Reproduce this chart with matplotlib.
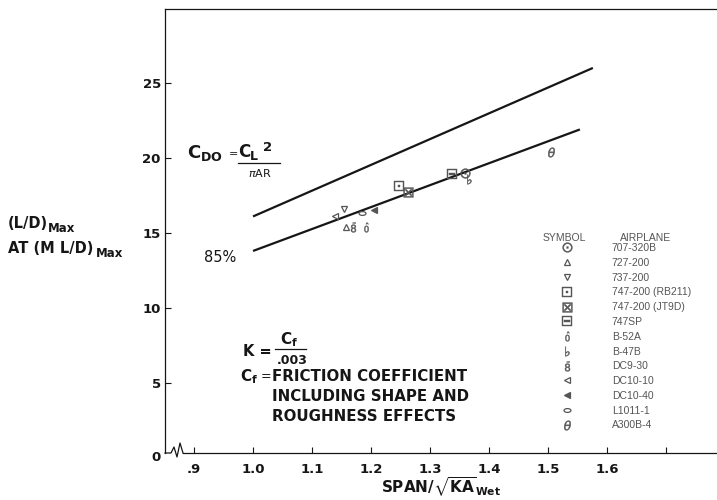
import matplotlib
matplotlib.use("Agg")
import matplotlib.pyplot as plt
from matplotlib.lines import Line2D
from matplotlib.path import Path
from matplotlib.transforms import Affine2D, blended_transform_factory

plt.rcParams["font.family"] = ["DejaVu Sans"]
plt.rcParams["mathtext.fontset"] = "custom"
plt.rcParams["mathtext.rm"] = "DejaVu Sans"
plt.rcParams["mathtext.it"] = "DejaVu Sans:italic"
plt.rcParams["mathtext.bf"] = "DejaVu Sans:bold"
plt.rcParams["mathtext.fallback"] = "stixsans"

# ---- data -------------------------------------------------------------
airplanes = ["707-320B", "727-200", "737-200", "747-200 (RB211)",
             "747-200 (JT9D)", "747SP", "B-52A", "B-47B", "DC9-30",
             "DC10-10", "DC10-40", "L1011-1", "A300B-4"]
span_ratio = [1.359, 1.158, 1.154, 1.247, 1.263, 1.337, 1.192, 1.366,
              1.169, 1.139, 1.205, 1.185, 1.505]
ld_max = [19.0, 15.4, 16.6, 18.1, 17.7, 18.9, 15.4, 18.6,
          15.4, 16.1, 16.5, 16.3, 20.4]

# theoretical (C_DO = C_L^2 / pi AR) line and its 85 % line
theory_x = [1.0, 1.576]
theory_y = [16.1, 26.0]
pct85_x = [1.0, 1.554]
pct85_y = [13.8, 21.9]

x_ticks = [0.9, 1.0, 1.1, 1.2, 1.3, 1.4, 1.5, 1.6, 1.7]
x_tick_labels = [".9", "1.0", "1.1", "1.2", "1.3", "1.4", "1.5", "1.6", ""]
y_ticks = [5, 10, 15, 20, 25]
y_tick_labels = ["5", "10", "15", "20", "25"]

# ---- figure -------------------------------------------------------------
W, H = 717, 500
INK = "#161616"
GREY = "#555555"
KEY_FONT = "Liberation Sans"


def px(x, y):
    return x / W, 1 - y / H


fig = plt.figure(figsize=(W / 100, H / 100), dpi=100)
ax_left, ax_right, ax_top, ax_bot = 165, 717, 9, 453
ax = fig.add_axes([ax_left / W, 1 - ax_bot / H,
                   (ax_right - ax_left) / W, (ax_bot - ax_top) / H])
ax.set_xlim(0.8508, 1.7864)
ax.set_ylim(0.33, 29.93)

ax.plot(theory_x, theory_y, color=INK, lw=1.6, solid_capstyle="butt")
ax.plot(pct85_x, pct85_y, color=INK, lw=1.6, solid_capstyle="butt")

ellipse = Path.unit_circle().transformed(Affine2D().scale(1.0, 0.55))
markers = [r"$\odot$", "^", "v", r"$\boxdot$", r"$\boxtimes$", r"$\boxminus$",
           r"$\hat{0}$", r"$\flat$", r"$\bar{8}$", "<", "<", ellipse,
           r"$\theta$"]
filled = [False] * len(airplanes)
filled[airplanes.index("DC10-40")] = True


def marker_kw(i):
    m = markers[i]
    kw = dict(marker=m, ls="none", color=GREY, mec=GREY, mew=0.9)
    if isinstance(m, str) and m.startswith("$"):
        kw["ms"] = 7
        kw["mew"] = 0.3
    else:
        kw["ms"] = 5
        kw["mfc"] = GREY if filled[i] else "white"
    return kw


for i in range(len(airplanes)):
    ax.plot([span_ratio[i]], [ld_max[i]], **marker_kw(i))

# ---- axes styling -------------------------------------------------------
for s in ("right", "bottom"):
    ax.spines[s].set_visible(False)
for s in ("left", "top"):
    ax.spines[s].set_linewidth(0.9)
    ax.spines[s].set_color(INK)

ax.set_xticks(x_ticks)
ax.set_xticklabels(x_tick_labels)
ax.set_yticks(y_ticks)
ax.set_yticklabels(y_tick_labels)
ax.tick_params(axis="both", direction="in", length=4, width=0.8,
               colors=INK, labelsize=9.5)
ax.tick_params(axis="x", pad=7)
ax.tick_params(axis="y", pad=3)
for lab in ax.get_xticklabels() + ax.get_yticklabels():
    lab.set_fontweight("bold")

# origin label sits below the broken corner
ax.text(-0.008, 0, "0", transform=blended_transform_factory(ax.transAxes, ax.transData),
        ha="right", va="center", fontsize=9.5, fontweight="bold", color=INK,
        clip_on=False)

# bottom axis with break symbol near the origin
aw, ah = ax_right - ax_left, ax_bot - ax_top


def axfrac(x, y):
    return (x - ax_left) / aw, (ax_bot - y) / ah


brk = [axfrac(*p) for p in [(165, 453), (171, 453), (174, 447), (177, 457),
                            (180, 443), (183, 453)]]
ax.plot([p[0] for p in brk], [p[1] for p in brk], transform=ax.transAxes,
        color=INK, lw=0.9, clip_on=False)
ax.plot([axfrac(183, 453)[0], 1.0], [0, 0], transform=ax.transAxes,
        color=INK, lw=0.9, clip_on=False)

ax.set_xlabel(r"$\mathbf{SPAN/}\sqrt{\mathbf{KA}}_{\mathbf{Wet}}$", fontsize=11,
              color=INK, labelpad=0)

# ---- y-axis caption -----------------------------------------------------
fig.text(*px(8, 228), "(L/D)", fontsize=10.5, fontweight="bold",
         color=INK, va="baseline")
fig.text(*px(8, 253), "AT (M L/D)", fontsize=10.5, fontweight="bold",
         color=INK, va="baseline")
fig.text(*px(48, 232), "Max", fontsize=8.5, fontweight="bold", color=INK,
         va="baseline")
fig.text(*px(96, 257), "Max", fontsize=8.5, fontweight="bold", color=INK,
         va="baseline")

# ---- formula annotations ------------------------------------------------
fig.text(*px(187, 158), r"$\mathbf{C_{DO}}$", fontsize=13, color=INK,
         va="baseline")
fig.text(*px(229, 157), "=", fontsize=8, color=INK, va="baseline")
fig.text(*px(238, 157), "C", fontsize=12, fontweight="bold", color=INK,
         va="baseline")
fig.text(*px(250, 160), "L", fontsize=9, fontweight="bold", color=INK,
         va="baseline")
fig.text(*px(263, 151), "2", fontsize=9.5, fontweight="bold", color=INK,
         va="baseline")
fig.add_artist(Line2D([px(238, 0)[0], px(280, 0)[0]], [px(0, 163)[1]] * 2,
                      color=INK, lw=0.9))
fig.text(*px(248, 177), r"$\pi$AR", fontsize=8, color=INK, va="baseline")
fig.text(*px(204, 262), "85%", fontsize=10.5, color=INK, va="baseline")

fig.text(*px(243, 356), "K =", fontsize=10.5, fontweight="bold", color=INK,
         va="baseline")
fig.text(*px(280, 344), r"$\mathbf{C_f}$", fontsize=11, color=INK,
         va="baseline")
fig.add_artist(Line2D([px(275, 0)[0], px(306, 0)[0]], [px(0, 349)[1]] * 2,
                      color=INK, lw=0.9))
fig.text(*px(277, 364), ".003", fontsize=9, fontweight="bold", color=INK,
         va="baseline")

fig.text(*px(240, 381), r"$\mathbf{C_f}$", fontsize=11, color=INK,
         va="baseline")
fig.text(*px(261, 380), "=", fontsize=9, color=INK, va="baseline")
for y, line in [(381, "FRICTION COEFFICIENT"),
                (401, "INCLUDING SHAPE AND"),
                (421, "ROUGHNESS EFFECTS")]:
    fig.text(*px(272, y), line, fontsize=10.8, fontweight="bold", color=INK,
             va="baseline")

# ---- symbol key -----------------------------------------------------------
handles = [Line2D([], [], **marker_kw(i)) for i in range(len(airplanes))]
fig.legend(handles, airplanes, loc="upper left",
           bbox_to_anchor=px(543, 243), frameon=False,
           prop={"family": KEY_FONT, "size": 7.5},
           handlelength=4.6, handletextpad=2.0, labelspacing=0.46,
           borderpad=0, borderaxespad=0, labelcolor=GREY)
fig.text(*px(543, 238), "SYMBOL", fontsize=7.5, family=KEY_FONT, color=GREY,
         va="center")
fig.text(*px(620, 238), "AIRPLANE", fontsize=7.5, family=KEY_FONT, color=GREY,
         va="center")

fig.savefig("out.png", dpi=100, facecolor="white")
